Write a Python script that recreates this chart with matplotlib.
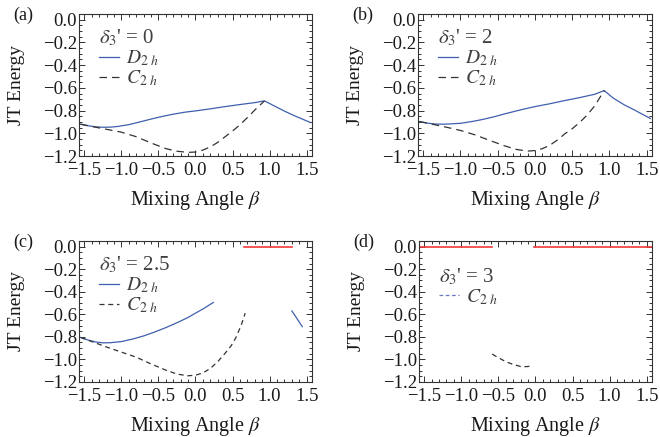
import matplotlib.pyplot as plt
from matplotlib.ticker import MultipleLocator, FuncFormatter

plt.rcParams['font.family'] = ['Liberation Serif', 'DejaVu Serif']
plt.rcParams['mathtext.fontset'] = 'stix'

blue = '#3f5fae'
red = '#f2383a'
dark = '#333333'

# (a) delta3' = 0
a_d2h_x = [-1.55, -1.45, -1.35, -1.25, -1.15, -1.05, -0.9, -0.75, -0.6, -0.45, -0.3, -0.15, 0.0, 0.2, 0.4, 0.6, 0.8, 0.93,
           1.05, 1.2, 1.35, 1.55]
a_d2h_y = [-0.92, -0.933, -0.943, -0.947, -0.946, -0.94, -0.924, -0.9, -0.875, -0.852, -0.832, -0.815, -0.803, -0.785,
           -0.765, -0.747, -0.73, -0.715, -0.755, -0.805, -0.85, -0.905]
a_c2h_x = [-1.55, -1.4, -1.2, -1.0, -0.8, -0.6, -0.4, -0.25, -0.1, 0.0, 0.1, 0.2, 0.3, 0.4, 0.5, 0.6, 0.7, 0.8, 0.93]
a_c2h_y = [-0.92, -0.94, -0.965, -0.99, -1.03, -1.085, -1.135, -1.158, -1.168, -1.165, -1.148, -1.12, -1.08, -1.03,
           -0.98, -0.925, -0.862, -0.795, -0.715]

# (b) delta3' = 2
b_d2h_x = [-1.55, -1.45, -1.35, -1.25, -1.15, -1.0, -0.85, -0.7, -0.55, -0.4, -0.2, 0.0, 0.2, 0.4, 0.6, 0.8, 0.93,
           1.05, 1.2, 1.35, 1.55]
b_d2h_y = [-0.897, -0.91, -0.918, -0.92, -0.918, -0.912, -0.897, -0.878, -0.855, -0.828, -0.795, -0.765, -0.74,
           -0.712, -0.686, -0.657, -0.624, -0.69, -0.75, -0.8, -0.87]
b_c2h_x = [-1.55, -1.4, -1.2, -1.0, -0.8, -0.6, -0.4, -0.25, -0.1, 0.0, 0.1, 0.2, 0.3, 0.4, 0.5, 0.6, 0.7, 0.8, 0.93]
b_c2h_y = [-0.897, -0.917, -0.945, -0.975, -1.015, -1.065, -1.112, -1.142, -1.157, -1.152, -1.135, -1.105, -1.06,
           -1.005, -0.96, -0.905, -0.84, -0.76, -0.624]

# (c) delta3' = 2.5
c_d2h_x = [-1.55, -1.45, -1.35, -1.25, -1.15, -1.0, -0.85, -0.7, -0.55, -0.4, -0.25, -0.1, 0.0, 0.1, 0.18, 0.24]
c_d2h_y = [-0.805, -0.828, -0.845, -0.853, -0.852, -0.842, -0.82, -0.792, -0.757, -0.718, -0.675, -0.628, -0.59,
           -0.553, -0.52, -0.495]
c_d2h2_x = [1.30, 1.37, 1.44]
c_d2h2_y = [-0.57, -0.64, -0.71]
c_c2h_x = [-1.55, -1.2, -1.0, -0.8, -0.6, -0.4, -0.25, -0.1, 0.0, 0.1, 0.2, 0.3, 0.4, 0.48, 0.55, 0.62, 0.67]
c_c2h_y = [-0.805, -0.89, -0.935, -0.98, -1.04, -1.095, -1.13, -1.145, -1.14, -1.12, -1.08, -1.02, -0.945, -0.88,
           -0.80, -0.69, -0.59]
c_red_x = [0.65, 1.30]
c_red_y = [0.0, 0.0]

# (d) delta3' = 3
d_c2h_x = [-0.583, -0.5, -0.4, -0.3, -0.187, -0.1, -0.044]
d_c2h_y = [-0.953, -0.985, -1.02, -1.045, -1.065, -1.063, -1.056]
d_red1_x = [-1.571, -0.583]
d_red2_x = [-0.017, 1.571]
d_red_y = [0.0, 0.0]

panel_pos = {
    'a': [0.1197, 0.643, 0.353, 0.325],
    'b': [0.6333, 0.643, 0.3545, 0.325],
    'c': [0.1197, 0.1259, 0.353, 0.3227],
    'd': [0.6348, 0.1259, 0.353, 0.3227],
}


def fmt(v, pos):
    s = '%.1f' % v
    if s == '-0.0':
        s = '0.0'
    return s.replace('-', '\u2212')


def setup(ax, tag):
    ax.set_xlim(-1.5708, 1.5708)
    ax.set_ylim(-1.2, 0.05)
    ax.xaxis.set_major_locator(MultipleLocator(0.5))
    ax.xaxis.set_minor_locator(MultipleLocator(0.1))
    ax.yaxis.set_major_locator(MultipleLocator(0.2))
    ax.yaxis.set_minor_locator(MultipleLocator(0.05))
    ax.xaxis.set_major_formatter(FuncFormatter(fmt))
    ax.yaxis.set_major_formatter(FuncFormatter(fmt))
    ax.tick_params(which='both', direction='in', top=True, right=True, color=dark, width=0.7)
    ax.tick_params(which='major', length=4, labelsize=13.5, labelcolor='#1a1a1a')
    ax.tick_params(axis='x', which='major', pad=4)
    ax.tick_params(axis='y', which='major', pad=1.5)
    ax.tick_params(which='minor', length=2)
    for sp in ax.spines.values():
        sp.set_color(dark)
        sp.set_linewidth(0.8)
    ax.set_xlabel(r'Mixing Angle $\beta$', fontsize=14.5, color='#1a1a1a')
    ax.set_ylabel('JT Energy', fontsize=14, color='#1a1a1a')
    ax.xaxis.set_label_coords(0.5, -0.235)
    ax.yaxis.set_label_coords(-0.232, 0.5)
    pos = ax.get_position()
    fig.text(pos.x0 - 0.1, pos.y1 - 0.003, '(%s)' % tag, fontsize=13, va='center', ha='left', color='#1a1a1a')


def add_legend(ax, title, y):
    leg = ax.legend(title=title, loc='upper left', bbox_to_anchor=(0.045, y), frameon=False,
                    fontsize=14, title_fontsize=15, handlelength=1.0, handletextpad=0.4,
                    labelspacing=0.0, borderpad=0.0, alignment='left', labelcolor='#404040')
    leg.get_title().set_color('#404040')


fig = plt.figure(figsize=(6.6, 4.37), dpi=100)

ax = fig.add_axes(panel_pos['a'])
ax.plot(a_d2h_x, a_d2h_y, color=blue, lw=0.9, label=r'$D_{2\ h}$')
ax.plot(a_c2h_x, a_c2h_y, color=dark, lw=0.9, ls=(0, (6, 4)), label=r'$C_{2\ h}$')
setup(ax, 'a')
add_legend(ax, r"$\delta_3$' = 0", 0.97)

ax = fig.add_axes(panel_pos['b'])
ax.plot(b_d2h_x, b_d2h_y, color=blue, lw=0.9, label=r'$D_{2\ h}$')
ax.plot(b_c2h_x, b_c2h_y, color=dark, lw=0.9, ls=(0, (6, 4)), label=r'$C_{2\ h}$')
setup(ax, 'b')
add_legend(ax, r"$\delta_3$' = 2", 0.97)

ax = fig.add_axes(panel_pos['c'])
ax.plot(c_d2h_x, c_d2h_y, color=blue, lw=0.9, label=r'$D_{2\ h}$')
ax.plot(c_c2h_x, c_c2h_y, color=dark, lw=0.9, ls=(0, (4, 3)), label=r'$C_{2\ h}$')
ax.plot(c_d2h2_x, c_d2h2_y, color=blue, lw=0.9)
ax.plot(c_red_x, c_red_y, color=red, lw=1.2)
setup(ax, 'c')
add_legend(ax, r"$\delta_3$' = 2.5", 0.97)

ax = fig.add_axes(panel_pos['d'])
ax.plot(d_red1_x, d_red_y, color=red, lw=1.2)
ax.plot(d_red2_x, d_red_y, color=red, lw=1.2)
ax.plot(d_c2h_x, d_c2h_y, color=dark, lw=0.9, ls=(0, (4, 3)))
ax.plot([], [], color='#6a78c8', lw=0.9, ls=(0, (3, 2)), label=r'$C_{2\ h}$')
setup(ax, 'd')
add_legend(ax, r"$\delta_3$' = 3", 0.89)

fig.savefig('out.png', dpi=100)
